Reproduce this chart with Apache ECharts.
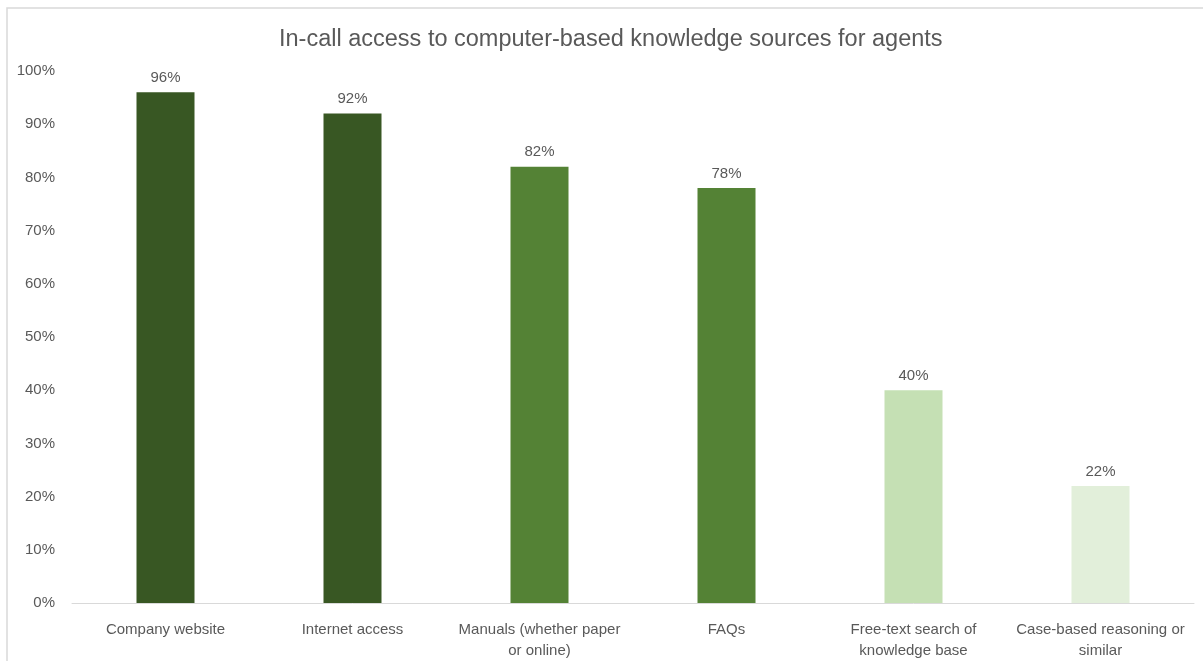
<!DOCTYPE html>
<html>
<head>
<meta charset="utf-8">
<script src="https://cdn.jsdelivr.net/npm/echarts@6/dist/echarts.min.js"></script>
<style>
  html, body { margin: 0; padding: 0; background: #ffffff; }
  #chart { width: 1203px; height: 661px; }
</style>
</head>
<body>
<div id="chart"></div>
<script>
// Knowledge sources available to agents during a call
const categories = [
  'Company website',
  'Internet access',
  'Manuals (whether paper\nor online)',
  'FAQs',
  'Free-text search of\nknowledge base',
  'Case-based reasoning or\nsimilar'
];
const shares = [96, 92, 82, 78, 40, 22];
const barColors = ['#385723', '#385723', '#548235', '#548235', '#C5E0B4', '#E2EFDA'];
const yTicks = [0, 10, 20, 30, 40, 50, 60, 70, 80, 90, 100];

const textColor = '#595959';
const fontFamily = '"Liberation Sans", Arial, sans-serif';

const chart = echarts.init(document.getElementById('chart'), null, { renderer: 'canvas' });

chart.setOption({
  backgroundColor: '#ffffff',
  animation: false,
  title: {
    text: 'In-call access to computer-based knowledge sources for agents',
    left: 274,
    top: 23,
    textStyle: { color: textColor, fontSize: 23.5, fontWeight: 'normal', fontFamily: fontFamily }
  },
  graphic: [
    {
      type: 'rect',
      shape: { x: 7, y: 8, width: 1300, height: 700 },
      style: { fill: 'none', stroke: '#d9d9d9', lineWidth: 1.5 },
      silent: true,
      z: -1
    }
  ],
  grid: { left: 72, right: 9, top: 71, bottom: 57, containLabel: false },
  xAxis: {
    type: 'category',
    data: categories,
    axisLine: { show: true, lineStyle: { color: '#d9d9d9', width: 1 } },
    axisTick: { show: false },
    axisLabel: {
      color: textColor,
      fontSize: 15,
      fontFamily: fontFamily,
      margin: 16,
      lineHeight: 21,
      interval: 0
    }
  },
  yAxis: {
    type: 'value',
    min: yTicks[0],
    max: yTicks[yTicks.length - 1],
    interval: 10,
    splitLine: { show: false },
    axisLine: { show: false },
    axisTick: { show: false },
    axisLabel: {
      color: textColor,
      fontSize: 15,
      fontFamily: fontFamily,
      margin: 17,
      formatter: v => v + '%'
    }
  },
  series: [
    {
      type: 'bar',
      barWidth: 58,
      data: shares.map((v, i) => ({ value: v, itemStyle: { color: barColors[i] } })),
      label: {
        show: true,
        position: 'top',
        distance: 7,
        color: textColor,
        fontSize: 15,
        fontFamily: fontFamily,
        formatter: p => p.value + '%'
      }
    }
  ]
});
</script>
</body>
</html>
